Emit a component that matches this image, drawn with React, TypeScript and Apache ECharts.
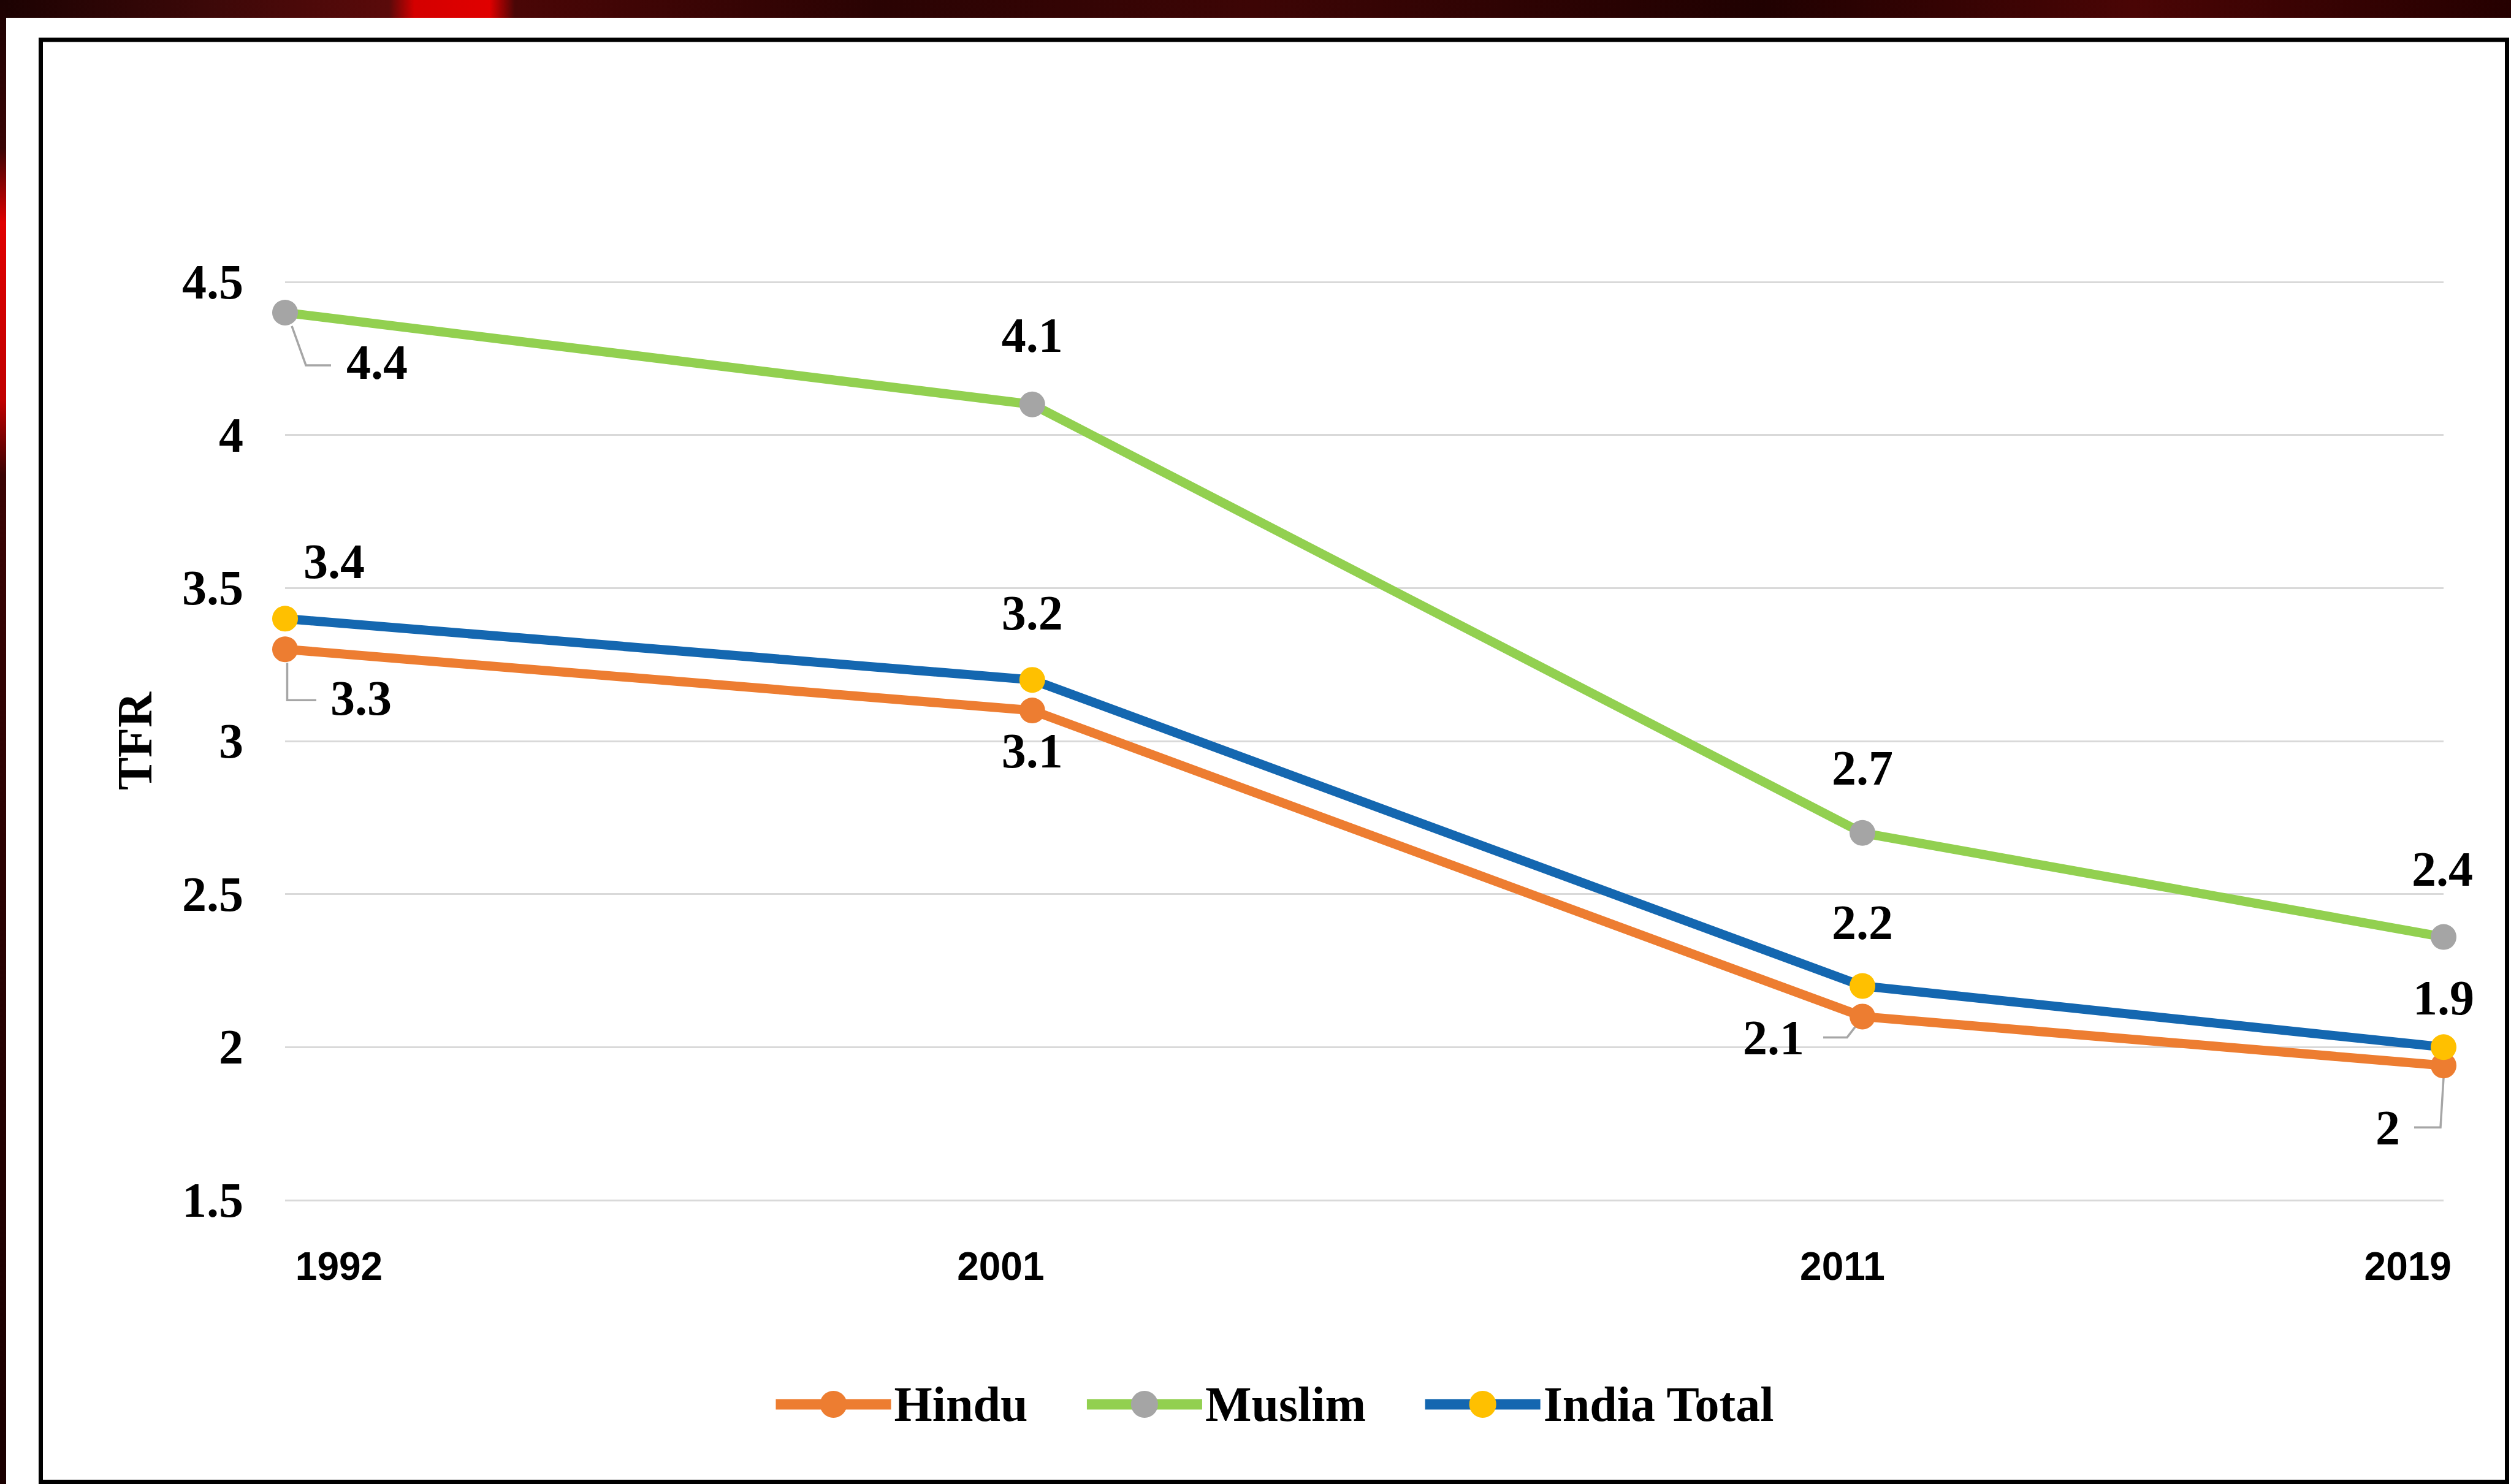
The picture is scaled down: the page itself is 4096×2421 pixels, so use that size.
import React, { useEffect, useRef } from 'react';
import * as echarts from 'echarts';

// ---------- data ----------
const yearLabels = ['1992', '2001', '2011', '2019'];
// x position of each point on a linear year scale, as drawn
const plotYears = [1992, 2001, 2011, 2018];
const hindu = [3.3, 3.1, 2.1, 1.94];
const muslim = [4.4, 4.1, 2.7, 2.36];
const indiaTotal = [3.4, 3.2, 2.2, 2.0];
const hinduLabels = ['3.3', '3.1', '2.1', '2'];
const muslimLabels = ['4.4', '4.1', '2.7', '2.4'];
const indiaLabels = ['3.4', '3.2', '2.2', '1.9'];
const yMin = 1.5;
const yMax = 4.5;
const yStep = 0.5;

// ---------- layout / style constants ----------
const X_LABEL_AT = [1992.65, 2000.62, 2010.76, 2017.57];
const OFF_HINDU = [[124, 80], [0, 66], [-145, 35], [-91, 102]];
const OFF_MUSLIM = [[150, 81], [0, -113], [0, -106], [-2, -111]];
const OFF_INDIA = [[80, -93], [0, -109], [0, -103], [0, -80]];
// elbow leader lines, relative to the marker centre (px)
type Pts = number[][] | null;
const LEADER_HINDU: Pts[] = [
  [[3.5, 22], [3.5, 83], [51, 83]],
  null,
  [[-8, 12], [-25, 34], [-64, 34]],
  [[0, 20], [-5, 101], [-48, 101]],
];
const LEADER_MUSLIM: Pts[] = [[[11, 22], [34, 86], [75, 86]], null, null, null];
const LEADER_INDIA: Pts[] = [null, null, null, null];

const SERIF = 'Liberation Serif';
const SANS = 'Liberation Sans';

function makeSeries(
  name: string,
  values: number[],
  labels: string[],
  offs: number[][],
  lineColor: string,
  markerColor: string
) {
  return {
    name,
    type: 'line',
    symbol: 'circle',
    symbolSize: 42,
    lineStyle: { color: lineColor, width: 15 },
    itemStyle: { color: markerColor },
    emphasis: { disabled: true },
    label: {
      show: true,
      position: 'inside',
      formatter: (p: any) => labels[p.dataIndex],
      fontFamily: SERIF,
      fontWeight: 'bold',
      fontSize: 80,
      color: '#000',
    },
    labelLayout: (p: any) => ({ dx: offs[p.dataIndex][0], dy: offs[p.dataIndex][1] }),
    data: values.map((v, i) => [plotYears[i], v]),
  };
}

export default function App() {
  const ref = useRef<HTMLDivElement>(null);
  useEffect(() => {
    if (!ref.current) return;
    const chart = echarts.init(ref.current, undefined, { renderer: 'svg' });
    const baseGraphics: any[] = [
      {
        type: 'rect',
        id: 'bandTop',
        shape: { x: 0, y: 0, width: 4096, height: 29 },
        style: {
          fill: new echarts.graphic.LinearGradient(0, 0, 1, 0, [
            { offset: 0, color: '#1c0202' },
            { offset: 0.08, color: '#3b0808' },
            { offset: 0.155, color: '#5a0a0a' },
            { offset: 0.165, color: '#d40000' },
            { offset: 0.195, color: '#e00000' },
            { offset: 0.205, color: '#4a0606' },
            { offset: 0.35, color: '#2a0303' },
            { offset: 0.5, color: '#3d0505' },
            { offset: 0.7, color: '#200101' },
            { offset: 0.85, color: '#4a0505' },
            { offset: 1, color: '#250000' },
          ]),
        },
        silent: true,
      },
      {
        type: 'rect',
        id: 'bandLeft',
        shape: { x: 0, y: 0, width: 10, height: 2421 },
        style: {
          fill: new echarts.graphic.LinearGradient(0, 0, 0, 1, [
            { offset: 0, color: '#1c0202' },
            { offset: 0.1, color: '#3a0505' },
            { offset: 0.15, color: '#e00000' },
            { offset: 0.27, color: '#c00000' },
            { offset: 0.32, color: '#3a0404' },
            { offset: 0.6, color: '#2a0202' },
            { offset: 1, color: '#1a0000' },
          ]),
        },
        silent: true,
      },
      {
        type: 'rect',
        id: 'frame',
        shape: { x: 66.5, y: 65, width: 4023, height: 2352.5 },
        style: { fill: 'transparent', stroke: '#000', lineWidth: 7 },
        silent: true,
      },
    ];
    const option: any = {
      animation: false,
      backgroundColor: '#ffffff',
      textStyle: { fontFamily: SERIF },
      grid: { left: 465, right: 110, top: 460, bottom: 463, containLabel: false },
      xAxis: {
        type: 'value',
        min: plotYears[0],
        max: plotYears[plotYears.length - 1],
        axisLine: { show: false },
        axisTick: { show: false },
        splitLine: { show: false },
        axisLabel: {
          customValues: X_LABEL_AT,
          formatter: (v: number) => {
            let best = 0;
            X_LABEL_AT.forEach((x, i) => {
              if (Math.abs(x - v) < Math.abs(X_LABEL_AT[best] - v)) best = i;
            });
            return yearLabels[best];
          },
          fontFamily: SANS,
          fontWeight: 'bold',
          fontSize: 64,
          color: '#000',
          margin: 76,
          hideOverlap: false,
        },
      },
      yAxis: {
        type: 'value',
        min: yMin,
        max: yMax,
        interval: yStep,
        name: 'TFR',
        nameLocation: 'middle',
        nameGap: 205,
        nameTextStyle: { fontFamily: SERIF, fontWeight: 'bold', fontSize: 80, color: '#000' },
        axisLine: { show: false },
        axisTick: { show: false },
        splitLine: { show: true, lineStyle: { color: '#D9D9D9', width: 3 } },
        axisLabel: {
          fontFamily: SERIF,
          fontWeight: 'bold',
          fontSize: 80,
          color: '#000',
          margin: 68,
        },
      },
      legend: {
        left: 1252,
        top: 2246,
        itemWidth: 188,
        itemHeight: 55,
        itemGap: 88,
        selectedMode: false,
        lineStyle: { width: 17 },
        textStyle: { fontFamily: SERIF, fontWeight: 'bold', fontSize: 80, color: '#000' },
        data: ['Hindu', 'Muslim', 'India Total'],
      },
      graphic: baseGraphics,
      series: [
        makeSeries('Hindu', hindu, hinduLabels, OFF_HINDU, '#ED7D31', '#ED7D31'),
        makeSeries('Muslim', muslim, muslimLabels, OFF_MUSLIM, '#92D050', '#A5A5A5'),
        makeSeries('India Total', indiaTotal, indiaLabels, OFF_INDIA, '#1467B0', '#FFC000'),
      ],
    };
    chart.setOption(option);

    // elbow leader lines anchored to the plotted points through the chart's scales
    const leaderSets: [number[], Pts[]][] = [
      [hindu, LEADER_HINDU],
      [muslim, LEADER_MUSLIM],
      [indiaTotal, LEADER_INDIA],
    ];
    const leaders: any[] = [];
    leaderSets.forEach(([values, pts], si) => {
      pts.forEach((lp, i) => {
        if (!lp) return;
        const px = chart.convertToPixel({ gridIndex: 0 }, [plotYears[i], values[i]]) as number[];
        leaders.push({
          type: 'polyline',
          id: `leader-${si}-${i}`,
          shape: { points: lp.map(([x, y]) => [px[0] + x, px[1] + y]) },
          style: { stroke: '#A6A6A6', lineWidth: 3.5, fill: null },
          silent: true,
          z: 1,
        });
      });
    });
    chart.setOption({ graphic: [...baseGraphics, ...leaders] });
    return () => chart.dispose();
  }, []);
  return (
    <div
      ref={ref}
      style={{ position: 'fixed', left: 0, top: 0, width: 4096, height: 2421 }}
    />
  );
}
